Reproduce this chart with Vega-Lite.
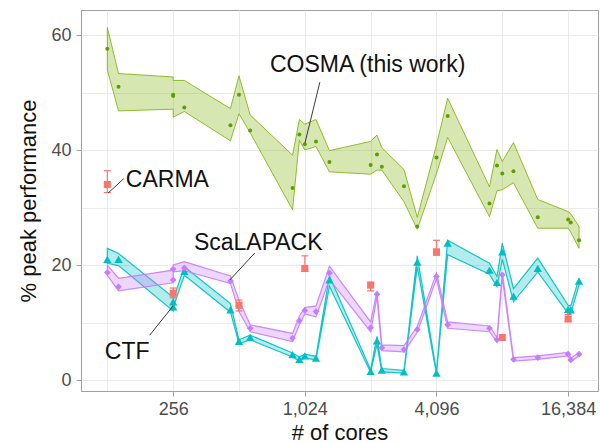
{
  "$schema": "https://vega.github.io/schema/vega-lite/v6.json",
  "width": 517,
  "height": 381,
  "autosize": "none",
  "padding": {"left": 81, "top": 10, "right": 2, "bottom": 52},
  "background": "white",
  "config": {
    "font": "Liberation Sans",
    "view": {"stroke": "#a0a0a0", "strokeWidth": 1},
    "axis": {
      "gridColor": "#ebebeb",
      "gridWidth": 1,
      "domainColor": "#a0a0a0",
      "tickColor": "#a0a0a0",
      "tickSize": 5,
      "labelFontSize": 18,
      "labelColor": "#4d4d4d",
      "labelFont": "Liberation Sans",
      "titleFont": "Liberation Sans",
      "titleFontSize": 22,
      "titleFontWeight": "normal",
      "titleColor": "#111111"
    }
  },
  "datasets": {
    "cosma": [
      {"cores": 128, "lo": 53.9, "hi": 61.3, "mean": 57.6},
      {"cores": 144, "lo": 46.8, "hi": 53.3, "mean": 51.0},
      {"cores": 256, "lo": 47.1, "hi": 52.7, "mean": 49.4},
      {"cores": 256, "lo": 45.7, "hi": 52.1, "mean": 49.6},
      {"cores": 288, "lo": 46.7, "hi": 52.1, "mean": 47.4},
      {"cores": 468, "lo": 41.6, "hi": 47.2, "mean": 44.3},
      {"cores": 512, "lo": 46.3, "hi": 52.9, "mean": 49.6},
      {"cores": 576, "lo": 43.0, "hi": 46.1, "mean": 43.4},
      {"cores": 900, "lo": 29.6, "hi": 39.1, "mean": 33.4},
      {"cores": 967, "lo": 41.7, "hi": 45.3, "mean": 42.7},
      {"cores": 1024, "lo": 40.0, "hi": 44.5, "mean": 41.0},
      {"cores": 1152, "lo": 40.6, "hi": 45.3, "mean": 41.5},
      {"cores": 1327, "lo": 36.2, "hi": 39.9, "mean": 37.9},
      {"cores": 2048, "lo": 35.8, "hi": 41.5, "mean": 37.4},
      {"cores": 2189, "lo": 36.5, "hi": 42.6, "mean": 39.2},
      {"cores": 2304, "lo": 36.5, "hi": 40.4, "mean": 37.1},
      {"cores": 2909, "lo": 31.0, "hi": 36.6, "mean": 33.7},
      {"cores": 3346, "lo": 26.2, "hi": 28.3, "mean": 26.7},
      {"cores": 4096, "lo": 35.9, "hi": 40.9, "mean": 38.7},
      {"cores": 4608, "lo": 42.2, "hi": 49.0, "mean": 45.9},
      {"cores": 7157, "lo": 28.4, "hi": 33.6, "mean": 30.7},
      {"cores": 7744, "lo": 32.9, "hi": 40.1, "mean": 37.3},
      {"cores": 8192, "lo": 33.1, "hi": 38.0, "mean": 35.9},
      {"cores": 9216, "lo": 34.3, "hi": 41.3, "mean": 36.3},
      {"cores": 11900, "lo": 26.4, "hi": 31.4, "mean": 28.3},
      {"cores": 16384, "lo": 26.4, "hi": 29.3, "mean": 27.9},
      {"cores": 16840, "lo": 25.7, "hi": 28.9, "mean": 27.4},
      {"cores": 18380, "lo": 22.9, "hi": 26.7, "mean": 24.3}
    ],
    "ctf": [
      {"cores": 128, "lo": 20.3, "hi": 22.9, "mean": 21.0},
      {"cores": 144, "lo": 19.9, "hi": 22.0, "mean": 21.0},
      {"cores": 256, "lo": 12.0, "hi": 14.4, "mean": 12.7},
      {"cores": 256, "lo": 12.6, "hi": 14.0, "mean": 13.6},
      {"cores": 288, "lo": 18.2, "hi": 19.7, "mean": 18.9},
      {"cores": 468, "lo": 11.8, "hi": 13.3, "mean": 12.2},
      {"cores": 512, "lo": 6.3, "hi": 7.0, "mean": 6.7},
      {"cores": 576, "lo": 7.0, "hi": 7.8, "mean": 7.4},
      {"cores": 900, "lo": 4.0, "hi": 4.7, "mean": 4.4},
      {"cores": 967, "lo": 3.3, "hi": 4.0, "mean": 3.6},
      {"cores": 1024, "lo": 3.8, "hi": 4.5, "mean": 4.2},
      {"cores": 1152, "lo": 3.5, "hi": 4.1, "mean": 3.8},
      {"cores": 1327, "lo": 16.3, "hi": 18.1, "mean": 17.4},
      {"cores": 2048, "lo": 1.3, "hi": 1.8, "mean": 1.5},
      {"cores": 2189, "lo": 6.2, "hi": 7.6, "mean": 6.8},
      {"cores": 2304, "lo": 1.4, "hi": 2.0, "mean": 1.7},
      {"cores": 2909, "lo": 1.2, "hi": 1.7, "mean": 1.4},
      {"cores": 3346, "lo": 19.7, "hi": 21.6, "mean": 20.5},
      {"cores": 4096, "lo": 1.0, "hi": 1.5, "mean": 1.2},
      {"cores": 4608, "lo": 21.8, "hi": 24.3, "mean": 23.8},
      {"cores": 7157, "lo": 18.4, "hi": 20.3, "mean": 19.1},
      {"cores": 7744, "lo": 16.2, "hi": 18.0, "mean": 17.0},
      {"cores": 8192, "lo": 21.0, "hi": 23.8, "mean": 22.3},
      {"cores": 9216, "lo": 13.6, "hi": 15.9, "mean": 14.6},
      {"cores": 11900, "lo": 18.8, "hi": 21.2, "mean": 19.4},
      {"cores": 16384, "lo": 11.6, "hi": 13.0, "mean": 12.3},
      {"cores": 16840, "lo": 11.6, "hi": 12.9, "mean": 12.2},
      {"cores": 18380, "lo": 16.5, "hi": 17.7, "mean": 17.2}
    ],
    "scalapack": [
      {"cores": 128, "lo": 18.2, "hi": 20.0, "mean": 18.7},
      {"cores": 144, "lo": 15.5, "hi": 17.7, "mean": 16.2},
      {"cores": 256, "lo": 16.9, "hi": 19.1, "mean": 17.4},
      {"cores": 256, "lo": 18.8, "hi": 20.0, "mean": 19.3},
      {"cores": 288, "lo": 19.0, "hi": 20.6, "mean": 19.5},
      {"cores": 468, "lo": 16.8, "hi": 18.1, "mean": 17.2},
      {"cores": 512, "lo": 11.9, "hi": 13.9, "mean": 12.8},
      {"cores": 576, "lo": 8.4, "hi": 9.6, "mean": 9.0},
      {"cores": 900, "lo": 6.7, "hi": 8.1, "mean": 7.3},
      {"cores": 967, "lo": 9.6, "hi": 11.1, "mean": 10.3},
      {"cores": 1024, "lo": 11.5, "hi": 12.6, "mean": 12.1},
      {"cores": 1152, "lo": 11.0, "hi": 12.9, "mean": 11.9},
      {"cores": 1327, "lo": 17.5, "hi": 19.8, "mean": 18.6},
      {"cores": 2048, "lo": 8.4, "hi": 10.1, "mean": 9.1},
      {"cores": 2189, "lo": 14.4, "hi": 15.5, "mean": 14.9},
      {"cores": 2304, "lo": 5.1, "hi": 6.1, "mean": 5.6},
      {"cores": 2909, "lo": 4.9, "hi": 6.0, "mean": 5.3},
      {"cores": 3346, "lo": 8.3, "hi": 9.3, "mean": 8.8},
      {"cores": 4096, "lo": 17.6, "hi": 18.6, "mean": 18.0},
      {"cores": 4608, "lo": 9.0, "hi": 10.1, "mean": 9.6},
      {"cores": 7157, "lo": 8.4, "hi": 9.4, "mean": 9.0},
      {"cores": 7744, "lo": 6.6, "hi": 7.4, "mean": 7.0},
      {"cores": 8192, "lo": 17.8, "hi": 18.8, "mean": 18.3},
      {"cores": 9216, "lo": 3.3, "hi": 3.9, "mean": 3.6},
      {"cores": 11900, "lo": 3.6, "hi": 4.2, "mean": 3.9},
      {"cores": 16384, "lo": 4.2, "hi": 4.8, "mean": 4.5},
      {"cores": 16840, "lo": 3.2, "hi": 3.8, "mean": 3.5},
      {"cores": 18380, "lo": 4.2, "hi": 4.8, "mean": 4.5}
    ],
    "carma": [
      {"cores": 128, "lo": 32.6, "hi": 36.4, "mean": 34.0},
      {"cores": 256, "lo": 14.3, "hi": 16.0, "mean": 15.1},
      {"cores": 512, "lo": 12.0, "hi": 13.9, "mean": 13.0},
      {"cores": 1024, "lo": 18.9, "hi": 21.6, "mean": 19.4},
      {"cores": 2048, "lo": 15.5, "hi": 17.0, "mean": 16.5},
      {"cores": 4096, "lo": 21.7, "hi": 24.3, "mean": 22.3},
      {"cores": 8192, "lo": 7.1, "hi": 7.7, "mean": 7.4},
      {"cores": 16384, "lo": 10.2, "hi": 11.4, "mean": 10.6}
    ],
    "labels": [
      {"label": "COSMA (this work)", "cores": 709, "v": 54.8, "cores2": 1200, "v2": 51.8, "cores3": 1025, "v3": 41.2},
      {"label": "CARMA", "cores": 155.5, "v": 34.8, "cores2": 152, "v2": 35.0, "cores3": 129, "v3": 32.5},
      {"label": "ScaLAPACK", "cores": 318.4, "v": 23.8, "cores2": 605, "v2": 22.1, "cores3": 465, "v3": 17.4},
      {"label": "CTF", "cores": 124.7, "v": 4.9, "cores2": 200, "v2": 7.8, "cores3": 256, "v3": 12.9}
    ]
  },
  "layer": [
    {
      "data": {"name": "cosma"},
      "mark": {"type": "area", "fill": "#7CAE00", "fillOpacity": 0.3, "stroke": "#7CAE00", "strokeOpacity": 0.8, "strokeWidth": 1},
      "encoding": {
        "x": {
          "field": "cores", "type": "quantitative",
          "scale": {"type": "log", "base": 2, "domain": [97, 22440], "nice": false},
          "axis": {
            "title": "# of cores",
            "values": [128, 256, 512, 1024, 2048, 4096, 8192, 16384],
            "labelExpr": "indexof([256,1024,4096,16384], datum.value) >= 0 ? format(datum.value, ',') : ''",
            "tickOpacity": {"condition": {"test": "indexof([256,1024,4096,16384], datum.value) < 0", "value": 0}, "value": 1},
            "grid": true,
            "labelPadding": 4,
            "titlePadding": 4
          }
        },
        "y": {
          "field": "hi", "type": "quantitative",
          "scale": {"domain": [-1.91, 64.35], "nice": false, "zero": false},
          "axis": {
            "title": "% peak performance",
            "values": [0, 10, 20, 30, 40, 50, 60],
            "labelExpr": "datum.value % 20 == 0 ? datum.label : ''",
            "tickOpacity": {"condition": {"test": "datum.value % 20 != 0", "value": 0}, "value": 1},
            "grid": true,
            "labelPadding": 5,
            "titlePadding": 10
          }
        },
        "y2": {"field": "lo"}
      }
    },
    {
      "data": {"name": "ctf"},
      "mark": {"type": "area", "fill": "#00BFC4", "fillOpacity": 0.3, "stroke": "#00BFC4", "strokeOpacity": 0.9, "strokeWidth": 1.2},
      "encoding": {
        "x": {"field": "cores", "type": "quantitative", "scale": {"type": "log", "base": 2, "domain": [97, 22440], "nice": false}},
        "y": {"field": "hi", "type": "quantitative", "scale": {"domain": [-1.91, 64.35], "nice": false, "zero": false}},
        "y2": {"field": "lo"}
      }
    },
    {
      "data": {"name": "scalapack"},
      "mark": {"type": "area", "fill": "#C77CFF", "fillOpacity": 0.3, "stroke": "#C77CFF", "strokeOpacity": 0.9, "strokeWidth": 1.2},
      "encoding": {
        "x": {"field": "cores", "type": "quantitative", "scale": {"type": "log", "base": 2, "domain": [97, 22440], "nice": false}},
        "y": {"field": "hi", "type": "quantitative", "scale": {"domain": [-1.91, 64.35], "nice": false, "zero": false}},
        "y2": {"field": "lo"}
      }
    },
    {
      "data": {"name": "cosma"},
      "mark": {"type": "circle", "size": 16, "color": "#5f9e00", "opacity": 1},
      "encoding": {
        "x": {"field": "cores", "type": "quantitative", "scale": {"type": "log", "base": 2, "domain": [97, 22440], "nice": false}},
        "y": {"field": "mean", "type": "quantitative", "scale": {"domain": [-1.91, 64.35], "nice": false, "zero": false}}
      }
    },
    {
      "data": {"name": "ctf"},
      "mark": {"type": "point", "shape": "triangle-up", "filled": true, "size": 70, "color": "#00BFC4", "opacity": 1},
      "encoding": {
        "x": {"field": "cores", "type": "quantitative", "scale": {"type": "log", "base": 2, "domain": [97, 22440], "nice": false}},
        "y": {"field": "mean", "type": "quantitative", "scale": {"domain": [-1.91, 64.35], "nice": false, "zero": false}}
      }
    },
    {
      "data": {"name": "scalapack"},
      "mark": {"type": "point", "shape": "diamond", "filled": true, "size": 45, "color": "#C77CFF", "opacity": 1},
      "encoding": {
        "x": {"field": "cores", "type": "quantitative", "scale": {"type": "log", "base": 2, "domain": [97, 22440], "nice": false}},
        "y": {"field": "mean", "type": "quantitative", "scale": {"domain": [-1.91, 64.35], "nice": false, "zero": false}}
      }
    },
    {
      "data": {"name": "carma"},
      "mark": {"type": "rule", "color": "#F8766D", "strokeWidth": 1.2},
      "encoding": {
        "x": {"field": "cores", "type": "quantitative", "scale": {"type": "log", "base": 2, "domain": [97, 22440], "nice": false}},
        "y": {"field": "lo", "type": "quantitative", "scale": {"domain": [-1.91, 64.35], "nice": false, "zero": false}},
        "y2": {"field": "hi"}
      }
    },
    {
      "data": {"name": "carma"},
      "mark": {"type": "tick", "orient": "horizontal", "size": 7, "thickness": 1.2, "color": "#F8766D", "opacity": 1},
      "encoding": {
        "x": {"field": "cores", "type": "quantitative", "scale": {"type": "log", "base": 2, "domain": [97, 22440], "nice": false}},
        "y": {"field": "lo", "type": "quantitative", "scale": {"domain": [-1.91, 64.35], "nice": false, "zero": false}}
      }
    },
    {
      "data": {"name": "carma"},
      "mark": {"type": "tick", "orient": "horizontal", "size": 7, "thickness": 1.2, "color": "#F8766D", "opacity": 1},
      "encoding": {
        "x": {"field": "cores", "type": "quantitative", "scale": {"type": "log", "base": 2, "domain": [97, 22440], "nice": false}},
        "y": {"field": "hi", "type": "quantitative", "scale": {"domain": [-1.91, 64.35], "nice": false, "zero": false}}
      }
    },
    {
      "data": {"name": "carma"},
      "mark": {"type": "square", "size": 50, "color": "#F8766D", "opacity": 1},
      "encoding": {
        "x": {"field": "cores", "type": "quantitative", "scale": {"type": "log", "base": 2, "domain": [97, 22440], "nice": false}},
        "y": {"field": "mean", "type": "quantitative", "scale": {"domain": [-1.91, 64.35], "nice": false, "zero": false}}
      }
    },
    {
      "data": {"name": "labels"},
      "mark": {"type": "rule", "color": "#3a3a3a", "strokeWidth": 1},
      "encoding": {
        "x": {"field": "cores2", "type": "quantitative", "scale": {"type": "log", "base": 2, "domain": [97, 22440], "nice": false}},
        "y": {"field": "v2", "type": "quantitative", "scale": {"domain": [-1.91, 64.35], "nice": false, "zero": false}},
        "x2": {"field": "cores3"},
        "y2": {"field": "v3"}
      }
    },
    {
      "data": {"name": "labels"},
      "mark": {"type": "text", "align": "left", "baseline": "middle", "fontSize": 23, "font": "Liberation Sans", "color": "#111111"},
      "encoding": {
        "x": {"field": "cores", "type": "quantitative", "scale": {"type": "log", "base": 2, "domain": [97, 22440], "nice": false}},
        "y": {"field": "v", "type": "quantitative", "scale": {"domain": [-1.91, 64.35], "nice": false, "zero": false}},
        "text": {"field": "label"}
      }
    }
  ]
}
